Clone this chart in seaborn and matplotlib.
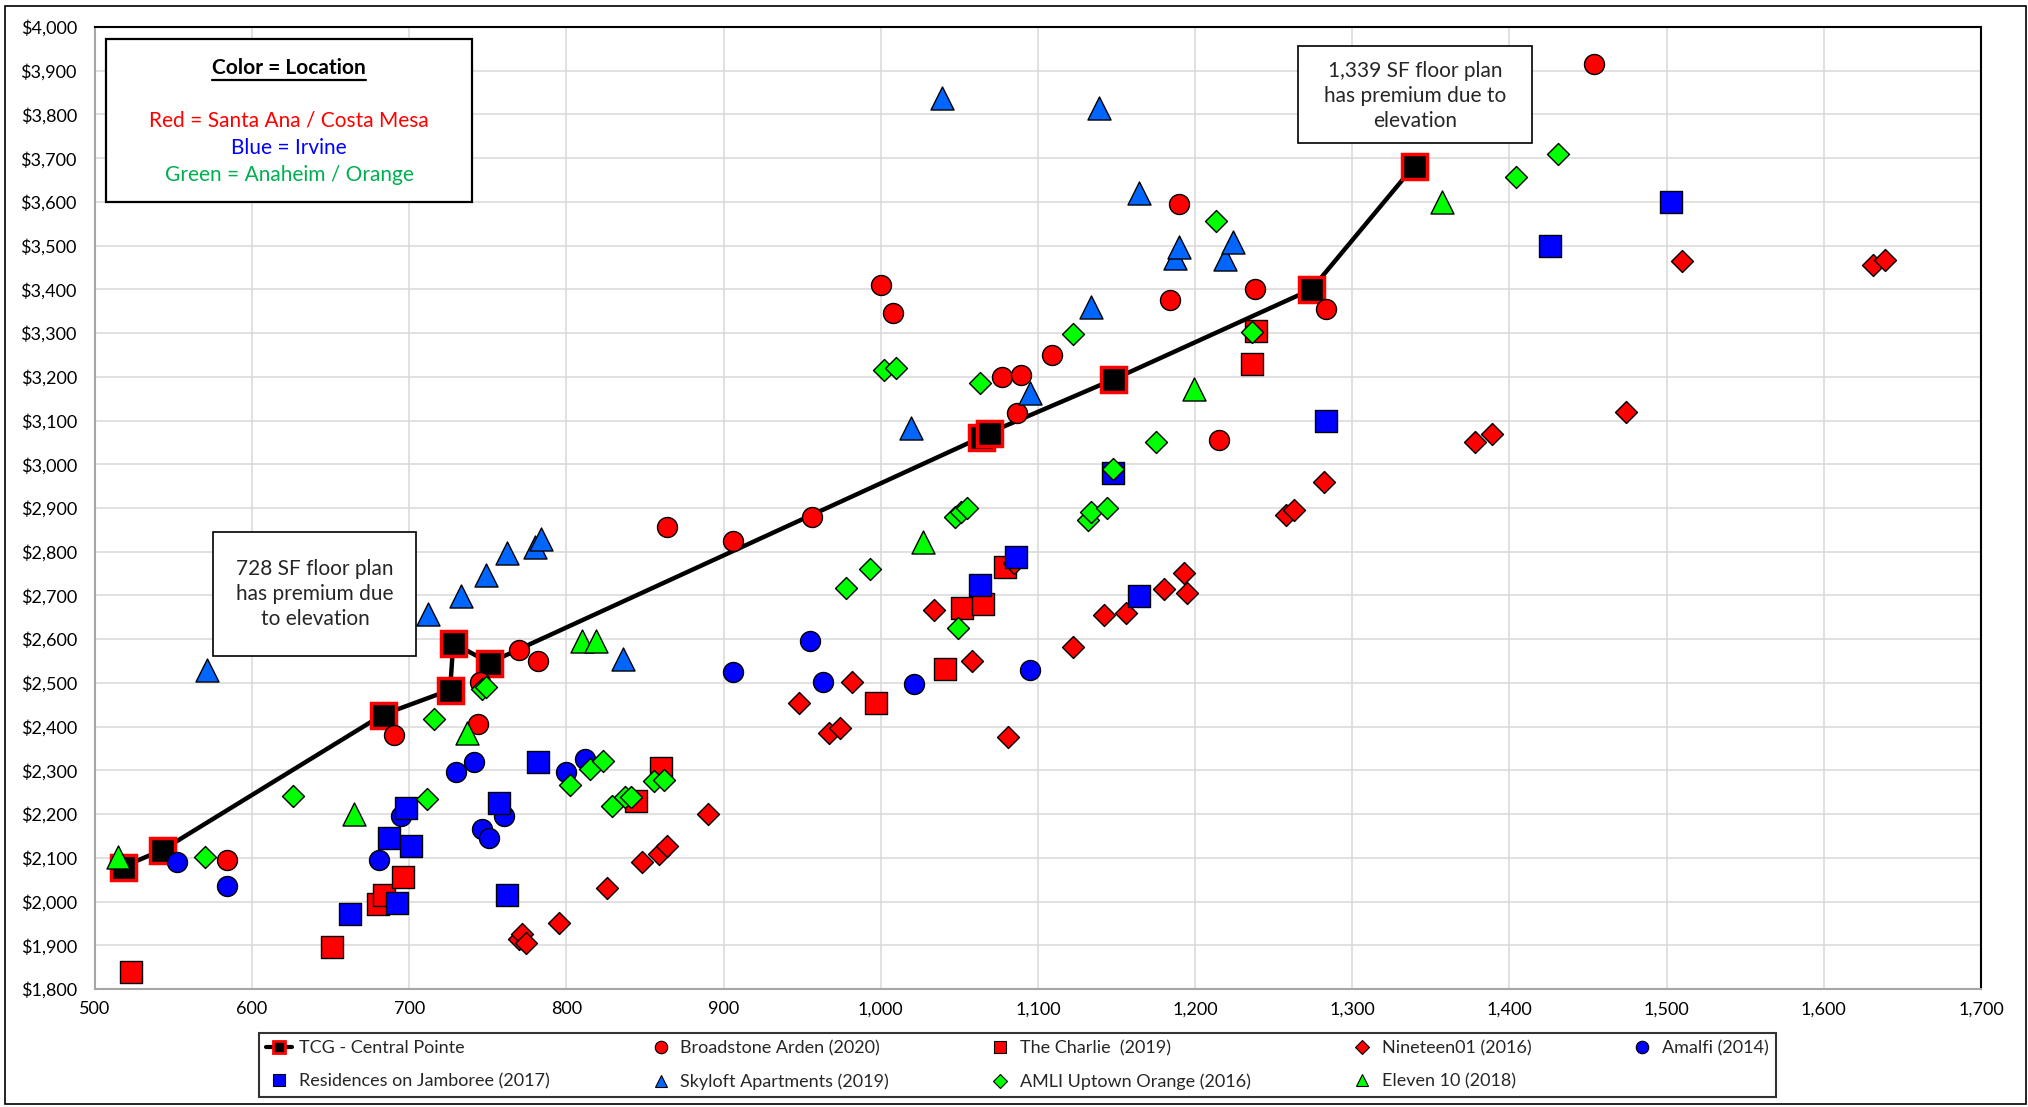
import matplotlib
matplotlib.use("Agg")
import matplotlib.pyplot as plt
from matplotlib.patches import Rectangle
from matplotlib.lines import Line2D
from matplotlib.ticker import FuncFormatter, MultipleLocator
import seaborn as sns

# TCG - Central Pointe (subject property, connected line)
tcg_x = [518, 543, 683, 726, 728, 751, 1064, 1069, 1148, 1274, 1339]
tcg_y = [2080, 2118, 2427, 2484, 2591, 2546, 3062, 3072, 3194, 3400, 3681]

# Broadstone Arden (2020) - red circles
broad_x = [584, 690, 744, 745, 770, 782, 864, 906, 956, 1000, 1008, 1077, 1087, 1089,
           1109, 1184, 1190, 1215, 1238, 1283, 1454]
broad_y = [2095, 2382, 2406, 2503, 2576, 2551, 2857, 2825, 2880, 3410, 3345, 3200, 3117, 3204,
           3250, 3376, 3595, 3056, 3400, 3354, 3915]

# The Charlie (2019) - red squares
charlie_x = [523, 651, 680, 684, 696, 844, 860, 997, 1041, 1052, 1065, 1079, 1236, 1239]
charlie_y = [1839, 1895, 1995, 2014, 2055, 2231, 2305, 2455, 2531, 2671, 2680, 2766, 3230, 3305]

# Nineteen01 (2016) - red diamonds
n01_x = [770, 772, 774, 795, 826, 848, 859, 864, 890, 948, 967, 974, 982, 1034, 1058, 1081,
         1085, 1122, 1142, 1156, 1180, 1193, 1195, 1258, 1263, 1282, 1378, 1389, 1474, 1510,
         1631, 1639]
n01_y = [1915, 1925, 1905, 1950, 2030, 2090, 2109, 2126, 2200, 2455, 2385, 2396, 2501, 2667, 2550, 2376,
         2775, 2581, 2655, 2659, 2714, 2751, 2705, 2885, 2896, 2959, 3050, 3069, 3120, 3465,
         3456, 3467]

# Amalfi (2014) - blue circles
amalfi_x = [552, 584, 681, 695, 730, 741, 746, 751, 760, 800, 812, 906, 955, 963, 1021, 1095]
amalfi_y = [2090, 2036, 2095, 2196, 2296, 2320, 2165, 2145, 2195, 2296, 2325, 2526, 2595, 2501, 2497, 2530]

# Residences on Jamboree (2017) - blue squares
jam_x = [662, 687, 692, 698, 701, 757, 762, 782, 1063, 1086, 1148, 1164, 1283, 1426, 1503]
jam_y = [1971, 2145, 1997, 2213, 2126, 2225, 2015, 2320, 2724, 2789, 2980, 2699, 3100, 3499, 3599]

# Skyloft Apartments (2019) - blue triangles
sky_x = [571, 712, 733, 749, 762, 780, 784, 836, 1019, 1039, 1095, 1134, 1139, 1164, 1187,
         1190, 1219, 1224]
sky_y = [2530, 2657, 2698, 2746, 2797, 2810, 2829, 2554, 3083, 3838, 3163, 3360, 3814, 3621, 3471,
         3496, 3469, 3509]

# AMLI Uptown Orange (2016) - green diamonds
amli_x = [570, 626, 711, 716, 746, 749, 802, 815, 823, 829, 837, 841, 856, 862, 978, 993,
          1002, 1010, 1047, 1049, 1051, 1055, 1063, 1122, 1132, 1134, 1144, 1148, 1175, 1213,
          1236, 1404, 1431]
amli_y = [2101, 2242, 2234, 2418, 2485, 2490, 2267, 2302, 2321, 2218, 2240, 2238, 2275, 2279, 2717, 2761,
          3215, 3221, 2880, 2625, 2890, 2901, 3186, 3299, 2873, 2890, 2901, 2989, 3050, 3556,
          3303, 3656, 3710]

# Eleven 10 (2018) - green triangles
eleven_x = [515, 665, 737, 810, 819, 1027, 1199, 1357]
eleven_y = [2103, 2200, 2385, 2595, 2595, 2823, 3173, 3599]

sns.set_style("white")
plt.rcParams['font.family'] = ['Lato', 'DejaVu Sans']

fig = plt.figure(figsize=(20.28, 11.07), dpi=100)
ax = fig.add_axes([0.0468, 0.1066, 0.93, 0.869])

# subject property line first (sits underneath the comps)
sns.lineplot(x=tcg_x, y=tcg_y, ax=ax, color='black', linewidth=3.2, marker='s',
             markersize=18, markerfacecolor='black', markeredgecolor='red',
             markeredgewidth=2.5, estimator=None, sort=False, legend=False, zorder=3)

series = [
    (broad_x, broad_y, 'o', 207, '#FF0000'),
    (charlie_x, charlie_y, 's', 250, '#FF0000'),
    (n01_x, n01_y, 'D', 125, '#FF0000'),
    (amalfi_x, amalfi_y, 'o', 207, '#0000FF'),
    (jam_x, jam_y, 's', 250, '#0000FF'),
    (sky_x, sky_y, '^', 275, '#0066FF'),
    (amli_x, amli_y, 'D', 125, '#00FF00'),
    (eleven_x, eleven_y, '^', 275, '#00FF00'),
]
for i, (xs, ys, mk, sz, col) in enumerate(series):
    sns.scatterplot(x=xs, y=ys, ax=ax, marker=mk, s=sz, color=col, edgecolor='black',
                    linewidth=1.0, legend=False, zorder=4 + i)

ax.set_xlim(500, 1700)
ax.set_ylim(1800, 4000)
ax.xaxis.set_major_locator(MultipleLocator(100))
ax.yaxis.set_major_locator(MultipleLocator(100))
ax.xaxis.set_major_formatter(FuncFormatter(lambda v, p: f"{v:,.0f}"))
ax.yaxis.set_major_formatter(FuncFormatter(lambda v, p: f"${v:,.0f}"))
ax.tick_params(length=0, labelsize=13, colors='black')
ax.tick_params(axis='y', pad=13)
ax.tick_params(axis='x', pad=9)
ax.grid(True, color='#D9D9D9', linewidth=1.1)
ax.set_axisbelow(True)
ax.set_xlabel('')
ax.set_ylabel('')
for side in ['top', 'right']:
    ax.spines[side].set_color('black')
    ax.spines[side].set_linewidth(1.5)
for side in ['left', 'bottom']:
    ax.spines[side].set_color('#A6A6A6')
    ax.spines[side].set_linewidth(1.5)

# outer chart border
fig.add_artist(Rectangle((0.0025, 0.003), 0.9965, 0.9916, transform=fig.transFigure,
                         fill=False, edgecolor='black', linewidth=1.2))

# Color = Location box
fig.add_artist(Rectangle((0.0523, 0.8175), 0.1805, 0.1472, transform=fig.transFigure,
                         facecolor='white', edgecolor='black', linewidth=1.6, zorder=5))
t_head = fig.text(0.1425, 0.9386, "Color = Location", ha='center', va='center',
                  fontsize=15, color='black', fontweight='bold', zorder=6)
fig.text(0.1425, 0.8907, "Red = Santa Ana / Costa Mesa", ha='center', va='center',
         fontsize=15, color='#FF0000', zorder=6)
fig.text(0.1425, 0.8663, "Blue = Irvine", ha='center', va='center',
         fontsize=15, color='#0000FF', zorder=6)
fig.text(0.1425, 0.8419, "Green = Anaheim / Orange", ha='center', va='center',
         fontsize=15, color='#00B050', zorder=6)

# annotation boxes
fig.add_artist(Rectangle((0.105, 0.4074), 0.1001, 0.112, transform=fig.transFigure,
                         facecolor='white', edgecolor='black', linewidth=1.2, zorder=5))
fig.text(0.1553, 0.4634, "728 SF floor plan\nhas premium due\nto elevation", ha='center',
         va='center', fontsize=15, linespacing=1.3, zorder=6)
fig.add_artist(Rectangle((0.64, 0.8708), 0.1154, 0.0876, transform=fig.transFigure,
                         facecolor='white', edgecolor='black', linewidth=1.2, zorder=5))
fig.text(0.6977, 0.9133, "1,339 SF floor plan\nhas premium due to\nelevation", ha='center',
         va='center', fontsize=15, linespacing=1.3, zorder=6)

# legend, ordered so matplotlib's column filling reads row by row
def mk(marker, col, ms=9):
    return Line2D([], [], linestyle='none', marker=marker, markersize=ms,
                  markerfacecolor=col, markeredgecolor='black', markeredgewidth=0.8)

h_tcg = Line2D([], [], color='black', linewidth=3, marker='s', markersize=9,
               markerfacecolor='black', markeredgecolor='red', markeredgewidth=2)
handles = [h_tcg, mk('s', '#0000FF'), mk('o', '#FF0000'), mk('^', '#0066FF'),
           mk('s', '#FF0000'), mk('D', '#00FF00', 7), mk('D', '#FF0000', 7),
           mk('^', '#00FF00'), mk('o', '#0000FF')]
labels = ["TCG - Central Pointe", "Residences on Jamboree (2017)", "Broadstone Arden (2020)",
          "Skyloft Apartments (2019)", "The Charlie  (2019)", "AMLI Uptown Orange (2016)",
          "Nineteen01 (2016)", "Eleven 10 (2018)", "Amalfi (2014)"]
leg = fig.legend(handles, labels, ncol=5, loc='center', mode='expand',
                 bbox_to_anchor=(0.1233, 0.0072, 0.7569, 0.0615), bbox_transform=fig.transFigure,
                 fontsize=13, frameon=True, fancybox=False, handlelength=1.4,
                 handletextpad=0.4, borderpad=0.4, labelspacing=0.95)
leg.get_frame().set_edgecolor('black')
leg.get_frame().set_linewidth(1.5)

# underline the box heading
fig.canvas.draw()
bb = t_head.get_window_extent().transformed(fig.transFigure.inverted())
fig.add_artist(Line2D([bb.x0, bb.x1], [bb.y0 - 0.002, bb.y0 - 0.002], color='black',
                      linewidth=1.6, transform=fig.transFigure, zorder=6))

fig.savefig("out.png", dpi=100)
